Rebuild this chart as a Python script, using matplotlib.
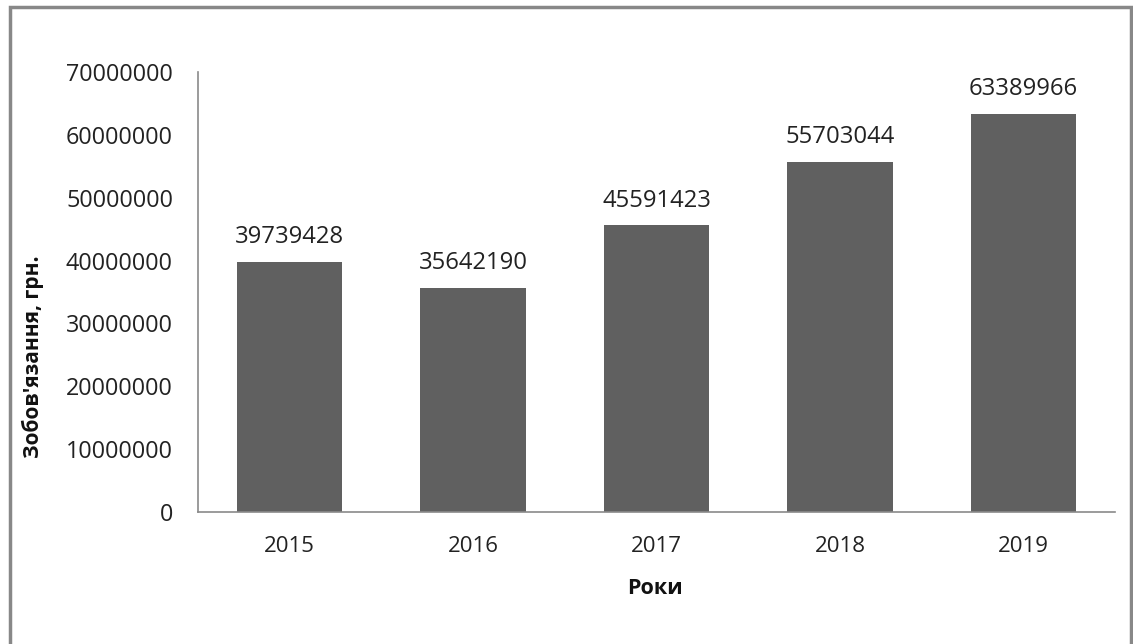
import matplotlib
matplotlib.use("Agg")
import matplotlib.pyplot as plt
from matplotlib.patches import Rectangle

years = ["2015", "2016", "2017", "2018", "2019"]
values = [39739428, 35642190, 45591423, 55703044, 63389966]
yticks = [0, 10000000, 20000000, 30000000, 40000000, 50000000, 60000000, 70000000]

plt.rcParams['font.family'] = ['Open Sans', 'DejaVu Sans']

W, H = 1133, 644
fig = plt.figure(figsize=(W / 100, H / 100), dpi=100)
fig.patch.set_facecolor("white")

left, right, top, bottom = 198, 1115, 72, 512
ax = fig.add_axes([left / W, 1 - bottom / H, (right - left) / W, (bottom - top) / H])

x = list(range(len(years)))
ax.bar(x, values, width=0.575, color="#606060", zorder=2)
ax.set_xlim(-0.5, len(years) - 0.5)
ax.set_ylim(0, 70000000)
ax.set_xticks(x)
ax.set_xticklabels(years)
ax.set_yticks(yticks)
ax.set_yticklabels([str(v) for v in yticks])
ax.tick_params(axis="y", length=0, labelsize=16.8, colors="#222222", pad=18)
ax.tick_params(axis="x", length=0, labelsize=16, colors="#222222", pad=17)

for s in ["top", "right"]:
    ax.spines[s].set_visible(False)
for s in ["left", "bottom"]:
    ax.spines[s].set_color("#8a8a8a")
    ax.spines[s].set_linewidth(1.2)

for xi, v in zip(x, values):
    ax.annotate(str(v), (xi, v), xytext=(0, 13.5), textcoords="offset points",
                ha="center", va="baseline", fontsize=17.2, color="#222222")

ax.set_xlabel("Роки", fontsize=15.5, fontweight="bold", color="#111111")
ax.set_ylabel("Зобов'язання, грн.", fontsize=15, fontweight="bold", color="#111111")
ax.xaxis.label.set_va("center")
ax.yaxis.label.set_va("center")
ax.xaxis.set_label_coords((655 - left) / (right - left), (bottom - 588) / (bottom - top))
ax.yaxis.set_label_coords((33 - left) / (right - left), (bottom - 357) / (bottom - top))

fig.patches.append(Rectangle((9.5 / W, -0.01), (1131 - 9.5) / W, 1.01 - 7 / H,
                             transform=fig.transFigure, fill=False,
                             edgecolor="#888888", linewidth=2.5, zorder=0))

fig.savefig("out.png", dpi=100, facecolor="white")
